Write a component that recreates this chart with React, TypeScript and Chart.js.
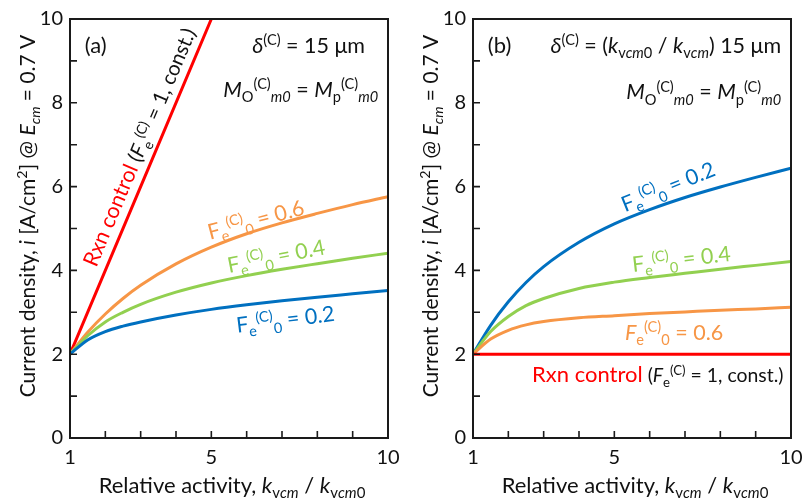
import React, { useEffect, useRef } from 'react';
import { Chart, registerables } from 'chart.js';

Chart.register(...registerables);

const FONT = "Lato, 'DejaVu Sans', sans-serif";
const RED = '#FF0000';
const ORANGE = '#F79646';
const GREEN = '#92D050';
const BLUE = '#0070C0';
const INK = '#111111';

// ---------- data ----------
const xValues = [1, 1.5, 2, 2.5, 3, 4, 5, 6, 7, 8, 9, 10];

// panel (a): delta = 15 um
const aRedX = [1, 5];
const aRedY = [2, 10];
const aOrange = [2, 2.525, 2.96, 3.33, 3.645, 4.155, 4.555, 4.875, 5.135, 5.36, 5.57, 5.76];
const aGreen = [2, 2.44, 2.77, 3.0, 3.19, 3.48, 3.7, 3.875, 4.025, 4.16, 4.29, 4.41];
const aBlue = [2, 2.34, 2.54, 2.67, 2.77, 2.935, 3.07, 3.18, 3.275, 3.36, 3.44, 3.52];

// panel (b): delta = (kvcm0/kvcm) 15 um
const bRedX = [1, 10];
const bRedY = [2, 2];
const bBlue = [2, 2.69, 3.25, 3.71, 4.09, 4.67, 5.11, 5.45, 5.74, 5.99, 6.22, 6.44];
const bGreen = [2, 2.54, 2.9, 3.16, 3.33, 3.57, 3.72, 3.83, 3.93, 4.03, 4.12, 4.21];
const bOrange = [2, 2.36, 2.57, 2.7, 2.78, 2.87, 2.92, 2.97, 3.01, 3.05, 3.08, 3.12];

const xTickLabels = [1, 5, 10];
const yTickLabels = [0, 2, 4, 6, 8, 10];
const xMinorTicks = [2, 3, 4, 5, 6, 7, 8, 9];
const yMinorTicks = [1, 2, 3, 4, 5, 6, 7, 8, 9];

// ---------- rich text ----------
type Seg = { t: string; i?: boolean; s?: 'b' | 'p'; c?: string; z?: number };
type Note = { x: number; y: number; a: number; size: number; color: string; align: 'left' | 'center' | 'right'; segs: Seg[] };

function drawRich(ctx: CanvasRenderingContext2D, segs: Seg[], x: number, y: number, angle: number, size: number, color: string, align: string) {
  const fontOf = (s: Seg) => {
    const base = size * (s.z || 1);
    const px = s.s ? base * 0.68 : base;
    return `${s.i ? 'italic ' : ''}${px.toFixed(1)}px ${FONT}`;
  };
  let total = 0;
  const ws = segs.map((s) => {
    ctx.font = fontOf(s);
    const w = ctx.measureText(s.t).width;
    total += w;
    return w;
  });
  ctx.save();
  ctx.translate(x, y);
  ctx.rotate((-angle * Math.PI) / 180);
  let cx = align === 'center' ? -total / 2 : align === 'right' ? -total : 0;
  ctx.textBaseline = 'alphabetic';
  ctx.textAlign = 'left';
  segs.forEach((s, k) => {
    const base = size * (s.z || 1);
    ctx.font = fontOf(s);
    ctx.fillStyle = s.c || color;
    const dy = s.s === 'b' ? base * 0.24 : s.s === 'p' ? -base * 0.36 : 0;
    ctx.fillText(s.t, cx, dy);
    cx += ws[k];
  });
  ctx.restore();
}

const fe0 = (val: string, italicF = false): Seg[] => [
  { t: 'F', i: italicF },
  { t: 'e', s: 'b' },
  { t: '(C)', s: 'p' },
  { t: '0', s: 'b' },
  { t: ' = ' + val },
];

const mLine: Seg[] = [
  { t: 'M', i: true },
  { t: 'O', s: 'b' },
  { t: '(C)', s: 'p' },
  { t: 'm0', s: 'b', i: true },
  { t: ' = ' },
  { t: 'M', i: true },
  { t: 'p', s: 'b' },
  { t: '(C)', s: 'p' },
  { t: 'm0', s: 'b', i: true },
];

const rxn = (small: number): Seg[] => [
  { t: 'Rxn control', c: RED },
  { t: ' (', z: small },
  { t: 'F', i: true, z: small },
  { t: 'e', s: 'b', z: small },
  { t: '(C)', s: 'p', z: small },
  { t: ' = 1, const.)', z: small },
];

const yTitle: Seg[] = [
  { t: 'Current density, ' },
  { t: 'i', i: true },
  { t: ' [A/cm' },
  { t: '2', s: 'p' },
  { t: '] @ ' },
  { t: 'E', i: true },
  { t: 'cm', s: 'b', i: true },
  { t: ' = 0.7 V' },
];

const xTitle: Seg[] = [
  { t: 'Relative activity, ' },
  { t: 'k', i: true },
  { t: 'v', s: 'b' },
  { t: 'cm', s: 'b', i: true },
  { t: ' / ' },
  { t: 'k', i: true },
  { t: 'v', s: 'b' },
  { t: 'cm', s: 'b', i: true },
  { t: '0', s: 'b' },
];

const notesA: Note[] = [
  { x: 1.42, y: 9.2, a: 0, size: 22, color: INK, align: 'left', segs: [{ t: '(a)' }] },
  { x: 9.35, y: 9.2, a: 0, size: 21.5, color: INK, align: 'right', segs: [{ t: 'δ', i: true }, { t: '(C)', s: 'p' }, { t: ' = 15 μm' }] },
  { x: 9.72, y: 8.15, a: 0, size: 21.5, color: INK, align: 'right', segs: mLine },
  { x: 1.74, y: 4.06, a: 67, size: 21.5, color: INK, align: 'left', segs: rxn(0.95) },
  { x: 4.96, y: 4.73, a: 15, size: 21.5, color: ORANGE, align: 'left', segs: fe0('0.6') },
  { x: 5.5, y: 3.94, a: 11, size: 21.5, color: GREEN, align: 'left', segs: fe0('0.4') },
  { x: 5.73, y: 2.51, a: 7, size: 21.5, color: BLUE, align: 'left', segs: fe0('0.2') },
];

const notesB: Note[] = [
  { x: 1.42, y: 9.2, a: 0, size: 22, color: INK, align: 'left', segs: [{ t: '(b)' }] },
  {
    x: 9.72, y: 9.2, a: 0, size: 21.5, color: INK, align: 'right',
    segs: [
      { t: 'δ', i: true }, { t: '(C)', s: 'p' }, { t: ' = (' },
      { t: 'k', i: true }, { t: 'v', s: 'b' }, { t: 'cm', s: 'b', i: true }, { t: '0', s: 'b' },
      { t: ' / ' },
      { t: 'k', i: true }, { t: 'v', s: 'b' }, { t: 'cm', s: 'b', i: true },
      { t: ') 15 μm' },
    ],
  },
  { x: 9.72, y: 8.08, a: 0, size: 21.5, color: INK, align: 'right', segs: mLine },
  { x: 5.3, y: 5.39, a: 22, size: 21.5, color: BLUE, align: 'left', segs: fe0('0.2') },
  { x: 5.53, y: 3.96, a: 6.5, size: 21.5, color: GREEN, align: 'left', segs: fe0('0.4') },
  { x: 5.3, y: 2.34, a: 0, size: 21.5, color: ORANGE, align: 'left', segs: fe0('0.6', true) },
  { x: 2.67, y: 1.34, a: 0, size: 22, color: INK, align: 'left', segs: rxn(0.88) },
];

const pts = (xs: number[], ys: number[]) => xs.map((x, i) => ({ x, y: ys[i] }));

type PanelProps = { left: number; width: number; axisW: number; rightPad: number; datasets: any[]; notes: Note[] };

function Panel({ left, width, axisW, rightPad, datasets, notes }: PanelProps) {
  const ref = useRef<HTMLCanvasElement | null>(null);
  useEffect(() => {
    if (!ref.current) return;
    const decor = {
      id: 'decor',
      afterDatasetsDraw(chart: any) {
        const { ctx, chartArea: a, scales } = chart;
        ctx.save();
        ctx.strokeStyle = '#1a1a1a';
        ctx.lineWidth = 1.6;
        ctx.beginPath();
        for (const v of xMinorTicks) {
          const px = scales.x.getPixelForValue(v);
          ctx.moveTo(px, a.bottom);
          ctx.lineTo(px, a.bottom - 7);
        }
        for (const v of yMinorTicks) {
          const py = scales.y.getPixelForValue(v);
          ctx.moveTo(a.left, py);
          ctx.lineTo(a.left + 7, py);
        }
        ctx.stroke();
        ctx.lineWidth = 2;
        ctx.strokeRect(a.left, a.top, a.right - a.left, a.bottom - a.top);
        ctx.restore();
      },
      afterDraw(chart: any) {
        const { ctx, chartArea: a, scales } = chart;
        for (const n of notes) {
          drawRich(ctx, n.segs, scales.x.getPixelForValue(n.x), scales.y.getPixelForValue(n.y), n.a, n.size, n.color, n.align);
        }
        drawRich(ctx, yTitle, a.left - 35, a.top + 197, 90, 21, INK, 'center');
        drawRich(ctx, xTitle, (a.left + a.right) / 2 + 3, chart.height - 6, 0, 22, INK, 'center');
      },
    };
    const chart = new Chart(ref.current, {
      type: 'line',
      data: { datasets },
      options: {
        responsive: false,
        animation: false,
        devicePixelRatio: 1,
        layout: { padding: { left: 0, top: 19, right: rightPad, bottom: 0 } },
        plugins: { legend: { display: false }, tooltip: { enabled: false }, title: { display: false } },
        elements: { point: { radius: 0 }, line: { borderWidth: 3, cubicInterpolationMode: 'monotone' } },
        scales: {
          x: {
            type: 'linear',
            min: 1,
            max: 10,
            grid: { display: false, drawTicks: false },
            border: { display: false },
            afterBuildTicks: (s: any) => { s.ticks = xTickLabels.map((v) => ({ value: v })); },
            afterFit: (s: any) => { s.height = 61; s.paddingLeft = 0; s.paddingRight = 0; },
            ticks: { color: INK, font: { family: FONT, size: 20 }, padding: 8, maxRotation: 0, autoSkip: false },
          },
          y: {
            type: 'linear',
            min: 0,
            max: 10,
            grid: { display: false, drawTicks: false },
            border: { display: false },
            afterBuildTicks: (s: any) => { s.ticks = yTickLabels.map((v) => ({ value: v })); },
            afterFit: (s: any) => { s.width = axisW; s.paddingTop = 0; s.paddingBottom = 0; },
            ticks: { color: INK, font: { family: FONT, size: 20 }, padding: 7, autoSkip: false },
          },
        },
      },
      plugins: [decor],
    });
    return () => chart.destroy();
  }, []);
  return (
    <canvas
      ref={ref}
      width={width}
      height={499}
      style={{ position: 'absolute', left, top: 0, width, height: 499 }}
    />
  );
}

const line = (data: any[], color: string) => ({ data, borderColor: color, backgroundColor: color, fill: false, borderWidth: 3 });

export default function App() {
  const dsA = [
    line(pts(xValues, aBlue), BLUE),
    line(pts(xValues, aGreen), GREEN),
    line(pts(xValues, aOrange), ORANGE),
    line(pts(aRedX, aRedY), RED),
  ];
  const dsB = [
    line(pts(bRedX, bRedY), RED),
    line(pts(xValues, bOrange), ORANGE),
    line(pts(xValues, bGreen), GREEN),
    line(pts(xValues, bBlue), BLUE),
  ];
  return (
    <div style={{ position: 'fixed', left: 0, top: 0, width: 807, height: 499, background: '#fff' }}>
      <Panel left={0} width={400} axisW={70} rightPad={12} datasets={dsA} notes={notesA} />
      <Panel left={400} width={407} axisW={73} rightPad={16} datasets={dsB} notes={notesB} />
    </div>
  );
}
